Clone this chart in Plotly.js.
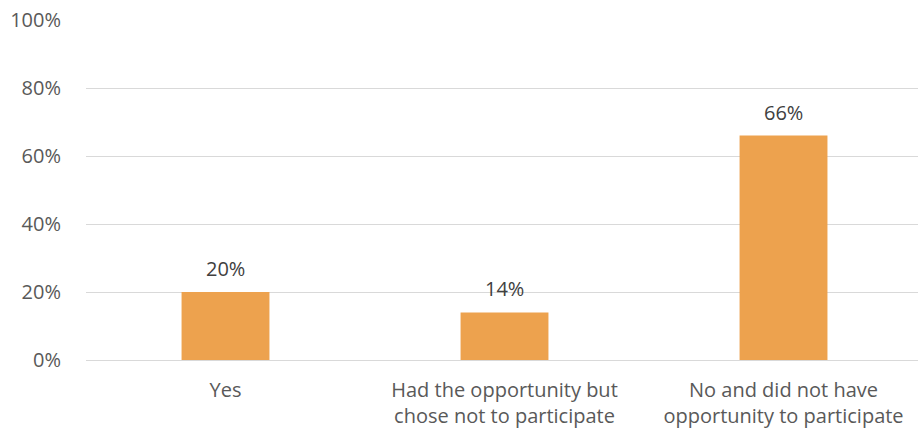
<!DOCTYPE html>
<html><head><meta charset="utf-8">
<script src="https://cdn.plot.ly/plotly-3.0.1.min.js"></script>
<style>html,body{margin:0;padding:0;background:#fff}#chart{width:918px;height:438px}</style>
</head><body><div id="chart"></div>
<script>
const categories = ["Yes", "Had the opportunity but<br>chose not to participate", "No and did not have<br>opportunity to participate"];
const values = [0.20, 0.14, 0.66];
const labels = ["20%", "14%", "66%"];
const yTicks = [0, 0.2, 0.4, 0.6, 0.8, 1.0];
const yTickText = ["0%", "20%", "40%", "60%", "80%", "100%"];

const font = "'Open Sans', Lato, sans-serif";
const data = [{
  type: "bar", x: categories, y: values,
  marker: {color: "#EDA24E"}, width: 0.315, hoverinfo: "none"
}];
const annotations = categories.map((c, i) => ({
  x: c, y: values[i], text: labels[i], showarrow: false,
  yanchor: "bottom", yshift: 8, font: {family: font, size: 20, color: "#404040"}
}));
const layout = {
  width: 918, height: 438,
  margin: {l: 86, r: 0, t: 20, b: 78},
  paper_bgcolor: "#fff", plot_bgcolor: "#fff",
  showlegend: false,
  font: {family: font, size: 20, color: "#595959"},
  xaxis: {type: "category", range: [-0.5, 2.482], showgrid: false, zeroline: false,
    showline: false, ticks: "outside", ticklen: 12, tickcolor: "rgba(0,0,0,0)",
    tickfont: {family: font, size: 20, color: "#595959"}, fixedrange: true},
  yaxis: {range: [0, 1], tickvals: yTicks, ticktext: yTickText, showgrid: true,
    gridcolor: "#D9D9D9", gridwidth: 1, zeroline: true, zerolinecolor: "#D9D9D9",
    showline: false, ticks: "outside", ticklen: 20, tickcolor: "rgba(0,0,0,0)",
    tickfont: {family: font, size: 20, color: "#595959"}, fixedrange: true},
  annotations: annotations
};
Plotly.newPlot("chart", data, layout, {displayModeBar: false, staticPlot: true});
</script></body></html>
